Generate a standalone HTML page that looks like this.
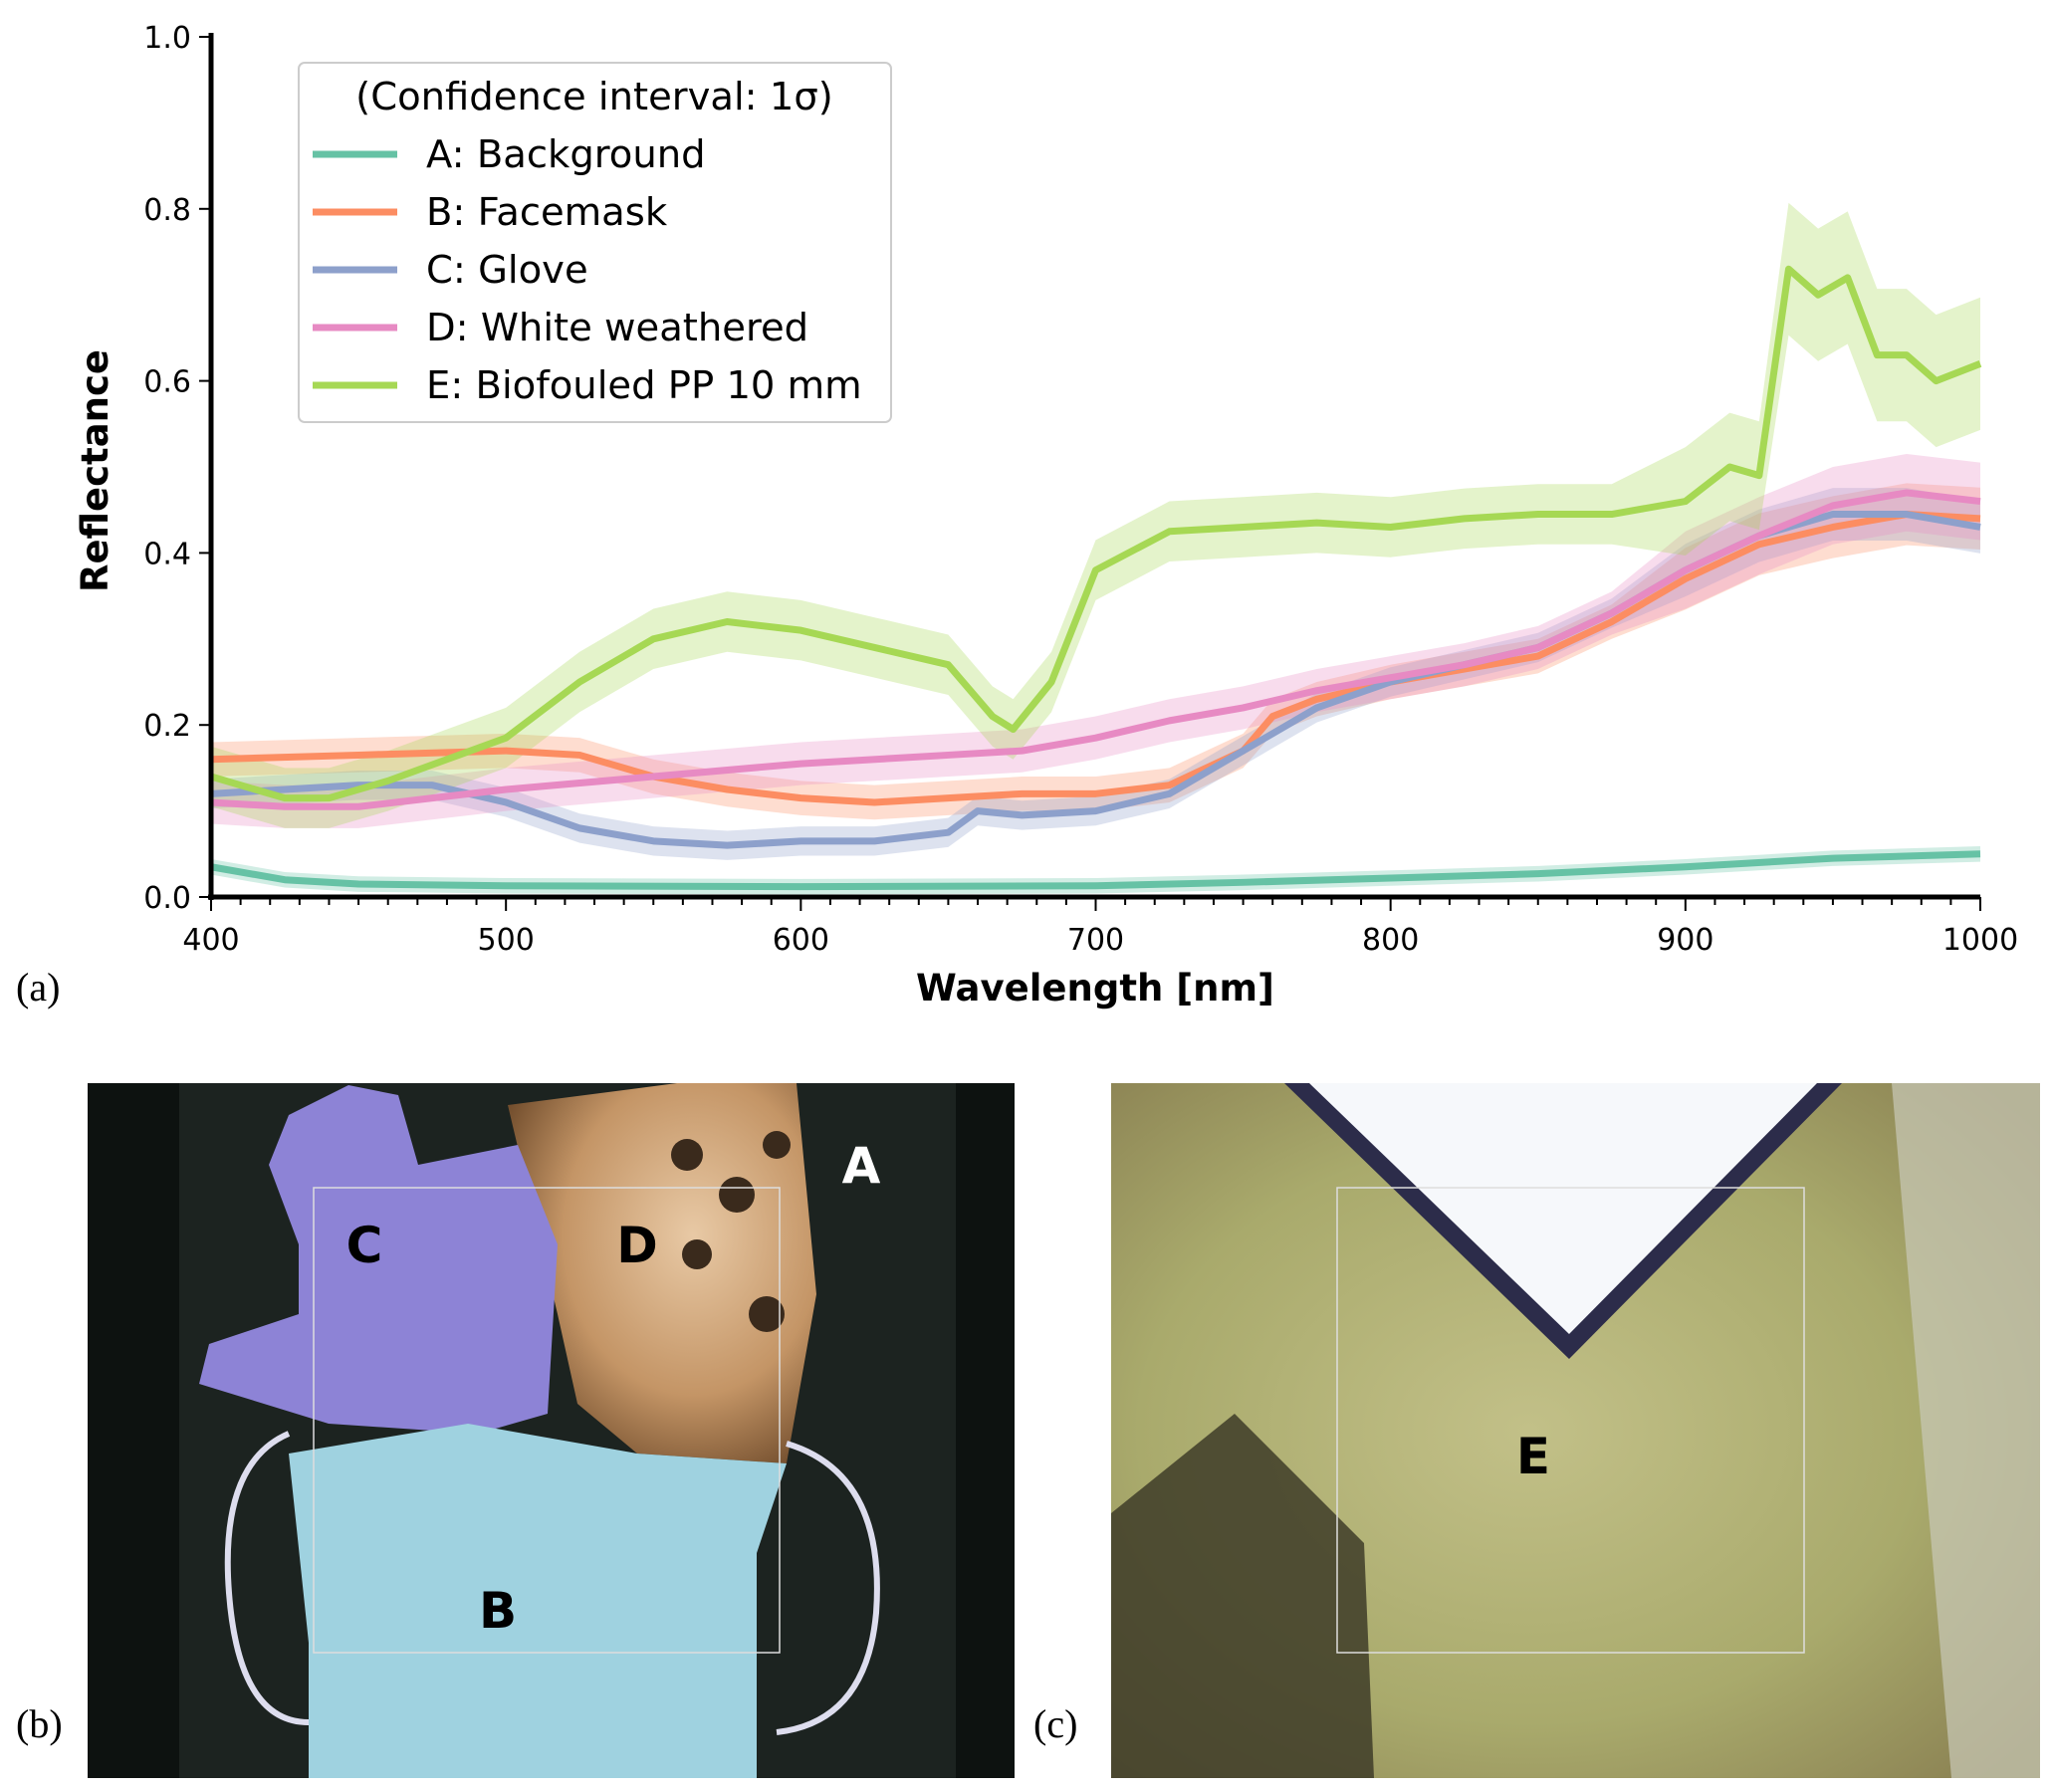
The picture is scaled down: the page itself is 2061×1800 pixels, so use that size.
<!DOCTYPE html>
<html><head><meta charset="utf-8"><style>
html,body{margin:0;padding:0;background:#fff;}
body{width:2061px;height:1800px;overflow:hidden;position:relative;font-family:"DejaVu Sans","Liberation Sans",sans-serif;}
svg{position:absolute;left:0;top:0;}
</style></head><body>
<svg id="chart" width="2061" height="1800">
  <g id="bands"></g>
  <g id="lines"></g>
  <g id="axes"></g>
  <g id="legend">
    <rect x="300" y="63" width="595" height="361" rx="6" fill="#fff" fill-opacity="0.85" stroke="#ccc" stroke-width="2"/>
    <text x="597" y="110" font-size="38.5" text-anchor="middle">(Confidence interval: 1σ)</text>
  </g>
  <text x="16" y="1005" font-family="Liberation Serif,serif" font-size="40">(a)</text>
  <text x="1100" y="1005" font-size="37" font-weight="bold" text-anchor="middle">Wavelength [nm]</text>
  <text transform="translate(108,473) rotate(-90)" font-size="37" font-weight="bold" text-anchor="middle">Reflectance</text>

  <g>
    <defs>
      <clipPath id="cb"><rect x="88" y="1088" width="931" height="698"/></clipPath>
      <clipPath id="cc"><rect x="1116" y="1088" width="933" height="698"/></clipPath>
      <radialGradient id="gd" cx="0.6" cy="0.4" r="0.7"><stop offset="0" stop-color="#e8c9a5"/><stop offset="0.6" stop-color="#c49566"/><stop offset="1" stop-color="#6e4a2a"/></radialGradient>
      <radialGradient id="ge" cx="0.45" cy="0.5" r="0.7"><stop offset="0" stop-color="#c2c088"/><stop offset="0.6" stop-color="#a9aa6c"/><stop offset="1" stop-color="#8b8253"/></radialGradient>
    </defs>
    <g clip-path="url(#cb)">
      <rect x="88" y="1088" width="931" height="698" fill="#0d1210"/>
      <rect x="180" y="1088" width="780" height="698" fill="#1c2320"/>
      <path d="M510,1110 L680,1088 L800,1088 L820,1300 L790,1470 L640,1460 L580,1410 L560,1320 Z" fill="url(#gd)"/>
      <circle cx="690" cy="1160" r="16" fill="#3a2a1c"/><circle cx="740" cy="1200" r="18" fill="#3a2a1c"/><circle cx="700" cy="1260" r="15" fill="#3a2a1c"/><circle cx="780" cy="1150" r="14" fill="#3a2a1c"/><circle cx="770" cy="1320" r="18" fill="#3a2a1c"/>
      <path d="M290,1120 L350,1090 L400,1100 L420,1170 L520,1150 L560,1250 L550,1420 L480,1440 L330,1430 L200,1390 L210,1350 L300,1320 L300,1250 L270,1170 Z" fill="#8d83d6"/>
      <path d="M290,1460 L470,1430 L640,1460 L790,1470 L760,1560 L760,1786 L310,1786 L310,1650 Z" fill="#9fd2e0"/>
      <path d="M290,1440 Q220,1470 230,1600 Q240,1730 310,1730" fill="none" stroke="#dde" stroke-width="6"/>
      <path d="M790,1450 Q890,1480 880,1620 Q870,1730 780,1740" fill="none" stroke="#dde" stroke-width="6"/>
      <rect x="315" y="1193" width="468" height="467" fill="none" stroke="#ddd" stroke-width="1.5"/>
    </g>
    <text x="366" y="1268" font-size="50" font-weight="bold" text-anchor="middle">C</text>
    <text x="640" y="1268" font-size="50" font-weight="bold" text-anchor="middle">D</text>
    <text x="865" y="1188" font-size="50" font-weight="bold" fill="#fff" text-anchor="middle">A</text>
    <text x="500" y="1635" font-size="50" font-weight="bold" text-anchor="middle">B</text>
  </g>
  <text x="16" y="1745" font-family="Liberation Serif,serif" font-size="40">(b)</text>

  <g>
    <g clip-path="url(#cc)">
      <rect x="1116" y="1088" width="933" height="698" fill="url(#ge)"/>
      <path d="M1116,1520 L1240,1420 L1370,1550 L1380,1786 L1116,1786 Z" fill="#3e3c28" opacity="0.85"/>
      <path d="M1900,1088 L2049,1088 L2049,1786 L1960,1786 Z" fill="#c9c9b8" opacity="0.7"/>
      <path d="M1290,1088 L1576,1365 L1850,1088 Z" fill="#2c2c4a"/>
      <path d="M1315,1088 L1576,1340 L1825,1088 Z" fill="#f6f8fb"/>
      <rect x="1343" y="1193" width="469" height="467" fill="none" stroke="#ddd" stroke-width="1.5"/>
    </g>
    <text x="1540" y="1480" font-size="50" font-weight="bold" text-anchor="middle">E</text>
  </g>
  <text x="1038" y="1745" font-family="Liberation Serif,serif" font-size="40">(c)</text>
</svg>
<script>
const wavelengths = {
  A:[400,425,450,500,600,700,750,800,850,900,950,1000],
  B:[400,450,500,525,550,575,600,625,650,675,700,725,750,760,775,800,825,850,875,900,925,950,975,1000],
  C:[400,425,450,475,500,525,550,575,600,625,650,660,675,700,725,750,775,800,825,850,875,900,925,950,975,1000],
  D:[400,425,450,475,500,550,600,650,675,700,725,750,775,800,825,850,875,900,925,950,975,1000],
  E:[400,425,440,460,480,500,525,550,575,600,625,650,665,672,685,700,725,750,775,800,825,850,875,900,915,925,935,945,955,965,975,985,1000]
};
const seriesA = [0.035,0.02,0.015,0.013,0.012,0.013,0.017,0.022,0.027,0.035,0.045,0.05];
const seriesB = [0.16,0.165,0.17,0.165,0.14,0.125,0.115,0.11,0.115,0.12,0.12,0.13,0.17,0.21,0.23,0.25,0.265,0.28,0.32,0.37,0.41,0.43,0.445,0.44];
const seriesC = [0.12,0.125,0.13,0.13,0.11,0.08,0.065,0.06,0.065,0.065,0.075,0.1,0.095,0.1,0.12,0.17,0.22,0.25,0.27,0.29,0.33,0.38,0.42,0.445,0.445,0.43];
const seriesD = [0.11,0.105,0.105,0.115,0.125,0.14,0.155,0.165,0.17,0.185,0.205,0.22,0.24,0.255,0.27,0.29,0.33,0.38,0.42,0.455,0.47,0.46];
const seriesE = [0.14,0.115,0.115,0.135,0.16,0.185,0.25,0.3,0.32,0.31,0.29,0.27,0.21,0.195,0.25,0.38,0.425,0.43,0.435,0.43,0.44,0.445,0.445,0.46,0.5,0.49,0.73,0.7,0.72,0.63,0.63,0.6,0.62];
const sigmas = {A:0.009,B:0.02,C:0.017,D:0.025,E:0.035};
const seriesNames = ["A: Background","B: Facemask","C: Glove","D: White weathered","E: Biofouled PP 10 mm"];
const seriesColors = ["#66c2a5","#fc8d62","#8da0cb","#e78ac3","#a6d854"];
const xTicks = [400,500,600,700,800,900,1000];
const yTicks = [0.0,0.2,0.4,0.6,0.8,1.0];

const X0=212,X1=1989,Y0=901,Y1=37;
const xs = w => X0+(w-400)/600*(X1-X0);
const ys = v => Y0-v*(Y0-Y1);
const NS="http://www.w3.org/2000/svg";
function mk(tag,attrs,parent){const e=document.createElementNS(NS,tag);for(const k in attrs)e.setAttribute(k,attrs[k]);parent.appendChild(e);return e;}
const bands=document.getElementById('bands'),lines=document.getElementById('lines'),axes=document.getElementById('axes'),legend=document.getElementById('legend');
const keys=["A","B","C","D","E"], vals=[seriesA,seriesB,seriesC,seriesD,seriesE];
[0,1,2,3,4].forEach(i=>{
  const k=keys[i],w=wavelengths[k],v=vals[i],s=sigmas[k],c=seriesColors[i];
  const f=x=>(k==="E"&&x>=930?2.2:(x>=900&&k!=="A"?1.8:1));
  const top=w.map((x,j)=>xs(x)+","+ys(v[j]+s*f(x)));
  const bot=w.map((x,j)=>xs(x)+","+ys(v[j]-s*f(x))).reverse();
  const b=mk('polygon',{points:top.concat(bot).join(' '),fill:c,'fill-opacity':0.3},bands);
  
  
  const l=mk('polyline',{points:w.map((x,j)=>xs(x)+","+ys(v[j])).join(' '),fill:'none',stroke:c,'stroke-width':7,'stroke-linejoin':'round'},lines);
  
  
});
const sp1=mk('line',{x1:X0,y1:Y1-4,x2:X0,y2:Y0+3,stroke:'#000','stroke-width':5},axes);


const sp2=mk('line',{x1:X0-3,y1:Y0,x2:X1,y2:Y0,stroke:'#000','stroke-width':5},axes);


for(let w=400;w<=1000;w+=10){
  const major=(w%100===0);
  mk('line',{x1:xs(w),y1:Y0,x2:xs(w),y2:Y0+(major?14:8),stroke:'#000','stroke-width':2},axes);
}
xTicks.forEach(t=>{
  const e=mk('text',{x:xs(t),y:Y0+53,'font-size':30,'text-anchor':'middle'},axes);
  e.textContent=t;
  
  
});
yTicks.forEach(t=>{
  mk('line',{x1:X0-12,y1:ys(t),x2:X0,y2:ys(t),stroke:'#000','stroke-width':2},axes);
  const e=mk('text',{x:X0-20,y:ys(t)+11,'font-size':30,'text-anchor':'end'},axes);
  e.textContent=t.toFixed(1);
  
  
});
seriesNames.forEach((n,i)=>{
  const y=155+i*58;
  const l=mk('line',{x1:314,y1:y,x2:399,y2:y,stroke:seriesColors[i],'stroke-width':7},legend);
  
  
  const t=mk('text',{x:428,y:y+13,'font-size':38.5},legend);
  t.textContent=n;
  
  
});
</script>
</body></html>
